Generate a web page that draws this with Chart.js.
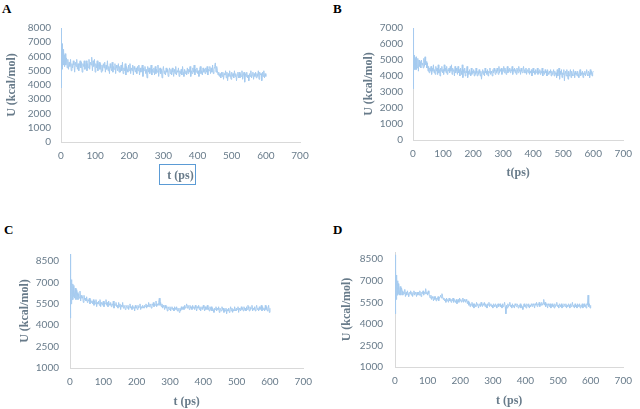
<!DOCTYPE html>
<html>
<head>
<meta charset="utf-8">
<script src="https://cdn.jsdelivr.net/npm/chart.js@4.4.1/dist/chart.umd.min.js"></script>
<style>
  html, body { margin: 0; padding: 0; background: #fff; }
  body { width: 640px; height: 409px; position: relative; overflow: hidden; }
  .panel { position: absolute; }
  .lbl { position: absolute; font: bold 13px "Liberation Serif", "Times New Roman", serif; color: #000; line-height: 13px; }
  #boxA { position: absolute; left: 159px; top: 164px; width: 35px; height: 19px; border: 1.5px solid #5B9BD5; }
</style>
</head>
<body>
<div class="lbl" style="left:2px;top:2px">A</div>
<div class="lbl" style="left:333px;top:2px">B</div>
<div class="lbl" style="left:4px;top:223px">C</div>
<div class="lbl" style="left:333px;top:223px">D</div>
<canvas id="cA" class="panel" style="left:0;top:0" width="320" height="200"></canvas>
<canvas id="cB" class="panel" style="left:320px;top:0" width="320" height="200"></canvas>
<canvas id="cC" class="panel" style="left:0;top:210px" width="320" height="199"></canvas>
<canvas id="cD" class="panel" style="left:320px;top:210px" width="320" height="199"></canvas>
<div id="boxA"></div>
<script>
// time grid (ps): fine sampling in the first 20 ps, then every 2 ps up to 600 ps
const tFine = [0,0.5,1,1.5,2,2.5,3,3.5,4,5,6,7,8,9,10,11,12,14,16,18,20];
const tSteps = [];
for (let t = 22; t <= 600; t += 2) tSteps.push(t);
const times = tFine.concat(tSteps);

const xTicks = [0,100,200,300,400,500,600,700];
const yTicksA = [0,1000,2000,3000,4000,5000,6000,7000,8000];
const yTicksB = [0,1000,2000,3000,4000,5000,6000,7000];
const yTicksCD = [1000,2500,4000,5500,7000,8500];

const uA = [
  8000,3800,7600,4400,7200,4900,6900,5100,6700,5300,6500,5400,6400,5500,6100,5300,6200,5400,5900,5200,5800,
  5100,5600,5300,5800,5000,5500,5200,5700,5400,4900,5600,5300,5800,5100,5500,5000,5400,5700,5200,5600,4900,5500,5300,5700,5100,
  5300,5700,5000,5500,5200,5800,5100,5600,5400,5950,5000,5700,5300,5800,4900,5500,5200,5700,5000,5400,5600,5100,5500,4900,5400,
  5000,5500,5200,5600,4900,5400,5100,5700,5000,5300,4800,5500,5200,5000,5600,4900,5300,5100,5500,4800,5400,5200,5000,5500,4900,
  5300,4900,5400,5000,5600,4800,5200,5000,5500,4700,5300,5100,4900,5400,5000,5500,4800,5200,5000,5400,4700,5300,5100,4900,5200,
  4800,5300,5000,5400,4700,5200,4900,5100,5400,4600,5200,5000,5300,4800,5100,4500,5300,4900,5200,4800,5000,5400,4700,5100,4900,
  5200,4700,5300,4800,5100,4900,5400,4600,5000,5200,4800,5100,4500,5000,5300,4800,5000,4700,5200,4900,5100,4600,5000,5200,4800,
  5100,4700,5200,4900,4600,5100,4800,5300,4700,5000,4900,5200,4600,5000,4800,5100,4700,5300,4900,4600,5100,4800,5000,4700,5200,
  4800,5100,4900,5300,4600,5000,4800,5200,4900,5400,4700,5100,4900,5200,4800,5000,4600,5100,5300,4800,5000,4700,5200,4900,5100,
  4800,5200,4900,5300,4700,5100,5000,5300,4800,5200,4900,5400,4800,5100,5300,5550,4900,5300,5000,4700,4900,4600,4800,4500,4900,
  4600,4900,4400,4800,4700,5000,4500,4900,4300,4800,4600,5000,4700,4400,4900,4600,4800,4500,5000,4600,4800,4300,4700,4900,4500,
  4900,4500,4800,4600,5000,4400,4700,4900,4200,4800,4600,4900,4500,4700,4300,4800,4600,5000,4500,4700,4900,4400,4800,4600,4900,
  4500,4800,4600,5000,4400,4900,4700,4800,4300,4900,4600,5000,4500,4800,4600
];
const uB = [
  7000,3200,6400,4000,5800,4300,5500,4400,5300,4500,5200,4400,5100,4500,5200,4400,5000,4500,5100,4300,5000,
  4600,4900,4500,5000,4700,4800,4500,5100,4600,5200,4700,4900,4500,4800,4300,4600,4200,4500,4300,4600,4100,4500,4300,4700,4200,
  4400,4100,4600,4300,4500,4100,4700,4200,4400,4000,4500,4300,4600,4200,4400,4100,4700,4300,4500,4200,4600,4100,4400,4300,4500,
  4200,4600,4300,4700,4100,4500,4300,4400,4000,4600,4200,4500,4300,4100,4600,4200,4400,4000,4500,4300,4100,4700,3900,4400,4200,
  4500,4000,4300,4200,4600,3900,4300,4100,4400,4200,4000,4500,4100,4300,4200,4400,4000,4300,4100,4500,4200,4000,4300,4100,4400,
  4200,4000,4300,3800,4200,4400,4100,4300,4000,4500,4200,4300,4100,4400,4000,4300,4200,4500,4100,4300,4200,4000,4400,4200,4500,
  4300,4100,4400,4200,4500,4300,4100,4600,4200,4400,4300,4500,4100,4400,4300,4600,4200,4500,4300,4100,4400,4600,4200,4400,4300,
  4500,4200,4400,4300,4600,4100,4400,4300,4500,4200,4400,4100,4500,4300,4200,4600,4300,4400,4100,4500,4300,4200,4400,4600,4200,
  4400,4200,4500,4100,4300,4400,4200,4500,4100,4300,4200,4400,4000,4300,4500,4200,4300,4100,4400,4200,4300,4500,4100,4300,4200,
  4400,4100,4300,4200,4500,4000,4300,4200,4100,4400,4200,4300,4000,4400,4200,4100,4300,4200,4400,4000,4300,4100,4200,4400,4000,
  4300,4100,4200,3900,4400,4000,4200,4500,3800,4300,4100,4400,3900,4200,4100,4400,3700,4200,4300,4000,4400,4100,3800,4300,4000,
  4200,4400,3900,4300,4100,4000,4400,4200,3900,4300,4100,4200,4000,4300,4100,3900,4200,4400,4000,4200,4100,4300,3900,4200,4100,
  4300,4000,4200,4400,4100,4000,4300,4200,3900,4400,4100,4300,4000,4200,4300
];
const uC = [
  9000,4500,8400,4900,7800,5300,7400,5500,7200,5700,7000,5800,6900,5800,6700,6000,6800,5900,6600,5800,6500,
  6300,5800,6200,5900,6400,5700,6100,5900,6000,5600,6100,5800,5900,5700,6000,5600,5800,5700,5900,5500,5800,5600,5700,5500,5800,
  5400,5700,5500,5800,5300,5600,5500,5700,5400,5800,5300,5600,5500,5400,5700,5300,5600,5500,5800,5400,5600,5300,5700,5500,5400,
  5600,5300,5500,5400,5700,5200,5500,5400,5600,5300,5400,5200,5600,5300,5500,5100,5400,5300,5600,5200,5400,5300,5100,5400,5300,
  5200,5400,5100,5300,5500,5200,5300,5100,5400,5200,5300,5000,5400,5200,5300,5100,5400,5200,5300,5500,5100,5300,5200,5400,5300,
  5200,5400,5300,5500,5200,5400,5300,5600,5300,5500,5400,5200,5500,5400,5600,5300,5500,5400,5700,5300,5500,5400,5600,5900,5400,
  5600,5300,5500,5200,5400,5300,5100,5400,5200,5300,5000,5300,5200,5100,5300,5000,5200,5300,5100,5200,5000,5300,5200,5100,5300,
  5000,5200,5100,4900,5200,5000,5300,5100,5200,5300,5100,5400,5200,5300,5500,5200,5400,5300,5100,5400,5200,5300,5100,5400,5200,
  5300,5100,5400,5200,5000,5300,5200,5400,5100,5300,5000,5200,5300,5100,5400,5200,5000,5300,5100,5200,5400,5100,5200,5000,5300,
  5100,5300,5000,5200,5100,4900,5200,5100,5300,5000,5200,5100,5300,4900,5200,5100,5000,5300,5100,5200,4900,5100,5000,5200,4800,
  5100,5000,5200,4900,5100,5300,5000,5200,4900,5100,5000,5300,5100,5000,5200,5100,5300,4900,5200,5100,5000,5300,5100,5200,5000,
  5300,5100,5200,5000,5300,5100,5400,5200,5000,5300,5100,5200,5400,5000,5200,5100,5300,5000,5200,5400,5100,5200,5000,5300,5100,
  5200,5400,5000,5300,5100,5200,5000,5400,5100,5300,5000,5200,5400,4900,5200
];
const uD = [
  8800,4700,8600,5100,8200,5500,7800,5700,7400,5900,7200,6000,7000,6000,6800,6100,6700,6000,6600,6000,6500,
  6300,6000,6200,6100,6400,5900,6200,6000,6300,6100,5900,6200,6100,6300,6000,6200,5900,6100,6300,6000,6200,6100,5900,6200,6000,
  6200,6000,6300,6100,5900,6200,6100,6300,6000,6200,6100,6450,6100,6200,6000,6300,6100,5900,5800,6000,5700,5900,5800,5600,5900,
  5700,5900,5600,5800,5700,5900,5600,5800,5900,6000,5800,6100,5900,5700,5800,5600,5700,5500,5800,5600,5700,5500,5800,5600,5700,
  5500,5700,5600,5800,5500,5700,5600,5500,5700,5400,5600,5700,5500,5800,5600,5700,5500,5600,5800,5500,5700,5600,5500,5700,5600,
  5400,5600,5300,5500,5200,5400,5300,5500,5200,5400,5100,5400,5300,5200,5500,5300,5400,5100,5300,5400,5200,5500,5300,5200,5400,
  5300,5500,5200,5400,5300,5100,5400,5300,5500,5200,5300,5400,5200,5300,5100,5400,5300,5200,5400,5300,5100,5300,5400,5200,5300,
  5400,5200,5300,5100,5400,5200,5300,5500,5200,4700,5300,5100,5400,5200,5300,5500,5200,5300,5100,5400,5200,5300,5100,5400,5300,
  5200,5400,5300,5100,5300,5200,5400,5100,5300,5200,5000,5300,5400,5200,5300,5100,5400,5300,5200,5400,5100,5300,5200,5400,5300,
  5200,5400,5300,5100,5400,5300,5500,5200,5400,5300,5500,5200,5400,5300,5500,5300,5400,5700,5300,5500,5200,5400,5300,5100,5400,
  5300,5200,5400,5100,5300,5400,5200,5300,5100,5400,5200,5300,5500,5200,5300,5100,5400,5300,5200,5400,5100,5300,5200,5400,5300,
  5200,5400,5100,5300,5200,5400,5300,5100,5400,5200,5300,5500,5200,5300,5100,5400,5200,5300,5100,5400,5300,5200,5400,5100,5300,
  5200,5400,5100,5300,5400,5200,5300,5100,5400,5300,6000,5200,5400,5100,5300
];

const TXT = '#687b8a';
const AXIS = '#d9d9d9';
const LINE = '#a6cbef';

function makeChart(id, values, cfg) {
  const n = Math.min(values.length, times.length);
  const pts = [];
  for (let i = 0; i < n; i++) pts.push({ x: times[i], y: values[i] });
  return new Chart(document.getElementById(id), {
    type: 'line',
    data: { datasets: [{ data: pts, borderColor: LINE, borderWidth: 1, pointRadius: 0, tension: 0, fill: false }] },
    options: {
      responsive: false, animation: false, devicePixelRatio: 1,
      events: [],
      layout: { padding: cfg.pad },
      plugins: { legend: { display: false }, tooltip: { enabled: false } },
      scales: {
        x: {
          type: 'linear', min: 0, max: 700,
          afterBuildTicks: s => { s.ticks = xTicks.map(v => ({ value: v })); },
          afterFit: s => { s.height = cfg.xh; },
          grid: { display: false, drawTicks: false },
          border: { display: true, color: AXIS, width: 1 },
          ticks: { color: TXT, font: { family: 'Lato', size: 10 }, padding: cfg.xtp, maxRotation: 0, autoSkip: false, callback: v => String(v) },
          title: { display: true, text: cfg.xtitle, color: TXT, padding: 0, font: { family: '"Liberation Serif", serif', size: 12, weight: 'bold' } }
        },
        y: {
          type: 'linear', min: cfg.ymin, max: cfg.ymax,
          afterBuildTicks: s => { s.ticks = cfg.yticks.map(v => ({ value: v })); },
          afterFit: s => { s.width = cfg.yw; },
          grid: { display: false, drawTicks: false },
          border: { display: true, color: AXIS, width: 1 },
          ticks: { color: TXT, font: { family: 'Lato', size: 10 }, padding: cfg.ytp, autoSkip: false, callback: v => String(v) },
          title: { display: true, text: 'U (kcal/mol)', color: TXT, padding: 0, font: { family: '"Liberation Serif", serif', size: 12, weight: 'bold' } }
        }
      }
    }
  });
}

makeChart('cA', uA, { pad: { left: 5, right: 20, top: 28, bottom: 17 }, xh: 41, yw: 56, xtp: 8, ytp: 10, ymin: 0, ymax: 8000, yticks: yTicksA, xtitle: 't (ps)' });
makeChart('cB', uB, { pad: { left: 42, right: 11, top: 28, bottom: 20 }, xh: 40, yw: 51, xtp: 8, ytp: 10, ymin: 0, ymax: 7000, yticks: yTicksB, xtitle: 't(ps)' });
makeChart('cC', uC, { pad: { left: 18, right: 14, top: 44, bottom: 0 }, xh: 41, yw: 52, xtp: 8, ytp: 11, ymin: 1000, ymax: 9000, yticks: yTicksCD, xtitle: 't (ps)' });
makeChart('cD', uD, { pad: { left: 20, right: 9, top: 42, bottom: 1 }, xh: 41, yw: 55, xtp: 8, ytp: 12, ymin: 1000, ymax: 9000, yticks: yTicksCD, xtitle: 't (ps)' });
</script>
</body>
</html>
